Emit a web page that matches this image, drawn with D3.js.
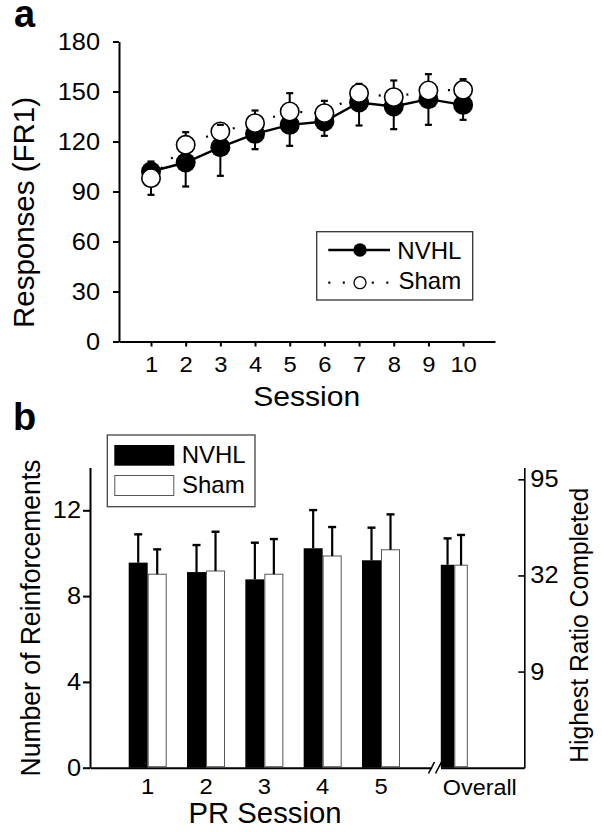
<!DOCTYPE html>
<html><head><meta charset="utf-8">
<script src="https://cdn.jsdelivr.net/npm/d3@7"></script>
<style>
body{margin:0;background:#fff}
svg{display:block}
text{font-family:"Liberation Sans",Arial,Helvetica,sans-serif;fill:#000}
</style>
</head><body>
<svg id="c" width="602" height="832"></svg>
<script>
// ---------- Panel a data ----------
const sessions = [1,2,3,4,5,6,7,8,9,10];
const nvhlFR1 = [102, 107.4, 116.6, 124.6, 130, 132, 143.4, 141, 145.4, 142];
const nvhlFR1Err = [6, 14.4, 17.2, 9.2, 12.6, 8.6, 13.8, 13.6, 15.4, 9];
const shamFR1 = [98, 118, 126, 131, 138, 137, 149, 146.6, 150.6, 151];
const shamFR1Err = [10, 7.6, 4, 7.6, 11, 7.4, 5.6, 10, 9.8, 6.4];
const fr1Ticks = [0,30,60,90,120,150,180];

// ---------- Panel b data ----------
const prCategories = ["1","2","3","4","5","Overall"];
const nvhlPR = [9.56, 9.12, 8.78, 10.23, 9.67, 9.46];
const nvhlPRErr = [1.32, 1.26, 1.71, 1.78, 1.52, 1.23];
const shamPR = [9.02, 9.17, 9.02, 9.87, 10.16, 9.44];
const shamPRErr = [1.16, 1.83, 1.64, 1.35, 1.65, 1.41];
const reinfTicks = [0,4,8,12];
const ratioTickSteps = [5,10,15];          // PR schedule step index
const ratioTickLabels = ["9","32","95"];   // ratio at that step

const svg = d3.select("#c");
const FONT = '"Liberation Sans",Arial,Helvetica,sans-serif';
const TS = 1.08; // horizontal stretch of tick labels

function styleAxis(g, fs){
  g.attr("font-family", FONT).attr("font-size", fs);
  g.selectAll(".domain").attr("stroke","#000").attr("stroke-width",2);
  g.selectAll(".tick line").attr("stroke","#000").attr("stroke-width",2);
  g.selectAll(".tick text").attr("fill","#000").attr("transform",`scale(${TS},1)`);
}

// ================= Panel a =================
const xA = d3.scaleLinear().domain([0.077, 10.92]).range([119, 495]);
const yA = d3.scaleLinear().domain([0, 180]).range([341.5, 41.5]);
const gA = svg.append("g");

const yAxA = gA.append("g").attr("transform","translate(119,0)")
  .call(d3.axisLeft(yA).tickValues(fr1Ticks).tickSize(6).tickPadding(11.6).tickSizeOuter(0));
styleAxis(yAxA, 23.5);

const xAxA = gA.append("g").attr("transform","translate(0,341.5)")
  .call(d3.axisBottom(xA).tickValues(sessions).tickSize(5).tickSizeOuter(0));
styleAxis(xAxA, 22);
xAxA.selectAll(".tick text").attr("y", 31).attr("dy", null);

gA.append("text").attr("x",14).attr("y",27).attr("font-size",38).attr("font-weight","bold").text("a");
gA.append("text").attr("transform","translate(33.5,212.5) rotate(-90)")
  .attr("text-anchor","middle").attr("font-size",29.5)
  .attr("textLength",231).attr("lengthAdjust","spacingAndGlyphs").text("Responses (FR1)");
gA.append("text").attr("x",306.7).attr("y",405.5).attr("text-anchor","middle")
  .attr("font-size",28).attr("textLength",107).attr("lengthAdjust","spacingAndGlyphs").text("Session");

const ptsN = sessions.map((s,i)=>({s, v:nvhlFR1[i], e:nvhlFR1Err[i], up: nvhlFR1[i] >= shamFR1[i]}));
const ptsS = sessions.map((s,i)=>({s, v:shamFR1[i], e:shamFR1Err[i], up: shamFR1[i] > nvhlFR1[i]}));
const line = d3.line().x(d=>xA(d.s)).y(d=>yA(d.v));

gA.append("path").datum(ptsS).attr("d", line).attr("fill","none")
  .attr("stroke","#000").attr("stroke-width",2.2).attr("stroke-dasharray","2,12");
gA.append("path").datum(ptsN).attr("d", line).attr("fill","none")
  .attr("stroke","#000").attr("stroke-width",2.4);

const R = 10, CAP = 3.5;
function stems(pts){
  gA.append("g").selectAll("line").data(pts).join("line")
    .attr("x1",d=>xA(d.s)).attr("x2",d=>xA(d.s))
    .attr("y1",d=>yA(d.v)).attr("y2",d=>yA(d.up ? d.v+d.e : d.v-d.e))
    .attr("stroke","#000").attr("stroke-width",2);
}
function caps(pts){
  gA.append("g").selectAll("line").data(pts).join("line")
    .attr("x1",d=>xA(d.s)-CAP).attr("x2",d=>xA(d.s)+CAP)
    .attr("y1",d=>yA(d.up ? d.v+d.e : d.v-d.e)).attr("y2",d=>yA(d.up ? d.v+d.e : d.v-d.e))
    .attr("stroke","#000").attr("stroke-width",2.2);
}
stems(ptsN); stems(ptsS);
gA.append("g").selectAll("circle").data(ptsN).join("circle")
  .attr("cx",d=>xA(d.s)).attr("cy",d=>yA(d.v)).attr("r",R).attr("fill","#000");
gA.append("g").selectAll("circle").data(ptsS).join("circle")
  .attr("cx",d=>xA(d.s)).attr("cy",d=>yA(d.v)).attr("r",R-0.8)
  .attr("fill","#fff").attr("stroke","#000").attr("stroke-width",1.6);
caps(ptsN); caps(ptsS);

// legend a
const legA = gA.append("g");
legA.append("rect").attr("x",316.7).attr("y",231.7).attr("width",156).attr("height",68.3)
  .attr("fill","#fff").attr("stroke","#333").attr("stroke-width",1.3);
legA.append("line").attr("x1",328.3).attr("x2",390).attr("y1",250).attr("y2",250)
  .attr("stroke","#000").attr("stroke-width",2.4);
legA.append("circle").attr("cx",360).attr("cy",250).attr("r",6.7).attr("fill","#000");
legA.append("line").attr("x1",328.3).attr("x2",390).attr("y1",282.7).attr("y2",282.7)
  .attr("stroke","#000").attr("stroke-width",2.2).attr("stroke-dasharray","2,12.5");
legA.append("circle").attr("cx",360).attr("cy",282.7).attr("r",6).attr("fill","#fff")
  .attr("stroke","#000").attr("stroke-width",1.3);
legA.append("text").attr("x",397.3).attr("y",259.3).attr("font-size",24).text("NVHL");
legA.append("text").attr("x",398.5).attr("y",288.7).attr("font-size",24).text("Sham");

// ================= Panel b =================
const gB = svg.append("g");
const yB = d3.scaleLinear().domain([0,14]).range([767.7, 467.4]);
const yR = d3.scaleLinear().domain([0,15.62]).range([767.7, 467.4]);
const xB = d3.scaleLinear().domain([1,5]).range([147.7, 381]);
const BREAK_GAP = 73.3;
const cx = (i)=> i < 5 ? xB(i+1) : xB(5) + BREAK_GAP;
const bw = (i)=> i < 5 ? 19 : 13.5;

const yAxB = gB.append("g").attr("transform","translate(90,0)")
  .call(d3.axisLeft(yB).tickValues(reinfTicks).tickSize(7).tickPadding(1.3).tickSizeOuter(0));
styleAxis(yAxB, 23.5);

const rAxB = gB.append("g").attr("transform","translate(524.3,0)")
  .call(d3.axisRight(yR).tickValues(ratioTickSteps).tickFormat((d,i)=>ratioTickLabels[i])
    .tickSize(-6).tickPadding(5.6).tickSizeOuter(0));
styleAxis(rAxB, 23.5);
rAxB.selectAll(".domain").attr("stroke-width",1.6);
rAxB.selectAll(".tick line").attr("stroke-width",1.6);

// x axis with break
const xSegL = d3.scaleLinear().range([90, 431.7]);
const xSegR = d3.scaleLinear().range([440.5, 524.3]);
[xSegL, xSegR].forEach(sc=>{
  const g = gB.append("g").attr("transform","translate(0,767.7)")
    .call(d3.axisBottom(sc).tickValues([]).tickSizeOuter(0));
  styleAxis(g, 21);
});
gB.append("path").attr("d","M428.5,773.5L434.5,762M435.5,773.5L441.5,762")
  .attr("stroke","#000").attr("stroke-width",1.6).attr("fill","none");

// category labels
const catG = gB.append("g");
prCategories.forEach((d,i)=>{
  const t = catG.append("text").attr("font-size",22).text(d);
  if (i < 5) {
    t.attr("transform",`translate(${cx(i)},794) scale(${TS},1)`).attr("text-anchor","middle");
  } else {
    t.attr("x", cx(i) - bw(i) + 2).attr("y", 794.5)
     .attr("textLength",74).attr("lengthAdjust","spacingAndGlyphs");
  }
});

// bars
const barsN = prCategories.map((c,i)=>({i, v:nvhlPR[i], e:nvhlPRErr[i]}));
const barsS = prCategories.map((c,i)=>({i, v:shamPR[i], e:shamPRErr[i]}));
gB.append("g").selectAll("rect").data(barsN).join("rect")
  .attr("x",d=>cx(d.i)-bw(d.i)).attr("width",d=>bw(d.i))
  .attr("y",d=>yB(d.v)).attr("height",d=>yB(0)-yB(d.v)).attr("fill","#000");
gB.append("g").selectAll("rect").data(barsS).join("rect")
  .attr("x",d=>cx(d.i)+0.5).attr("width",d=>bw(d.i)-1)
  .attr("y",d=>yB(d.v)).attr("height",d=>yB(0)-yB(d.v)-1)
  .attr("fill","#fff").attr("stroke","#555").attr("stroke-width",1);

function errB(data, side){
  const xc = d=> cx(d.i) + side*bw(d.i)/2;
  const g = gB.append("g");
  g.selectAll("line.s").data(data).join("line").attr("class","s")
    .attr("x1",xc).attr("x2",xc).attr("y1",d=>yB(d.v)).attr("y2",d=>yB(d.v+d.e))
    .attr("stroke","#000").attr("stroke-width",2.2);
  g.selectAll("line.c").data(data).join("line").attr("class","c")
    .attr("x1",d=>xc(d)-4).attr("x2",d=>xc(d)+4).attr("y1",d=>yB(d.v+d.e)).attr("y2",d=>yB(d.v+d.e))
    .attr("stroke","#000").attr("stroke-width",2.4);
}
errB(barsN, -1); errB(barsS, 1);

// titles b
gB.append("text").attr("x",13).attr("y",430).attr("font-size",38).attr("font-weight","bold").text("b");
gB.append("text").attr("transform","translate(39.7,618) rotate(-90)")
  .attr("text-anchor","middle").attr("font-size",27)
  .attr("textLength",317).attr("lengthAdjust","spacingAndGlyphs").text("Number of Reinforcements");
gB.append("text").attr("transform","translate(588,625.3) rotate(-90)")
  .attr("text-anchor","middle").attr("font-size",25)
  .attr("textLength",275).attr("lengthAdjust","spacingAndGlyphs").text("Highest Ratio Completed");
gB.append("text").attr("x",265).attr("y",823.3).attr("text-anchor","middle")
  .attr("font-size",29).attr("textLength",153).attr("lengthAdjust","spacingAndGlyphs").text("PR Session");

// legend b
const legB = gB.append("g");
legB.append("rect").attr("x",107.3).attr("y",435).attr("width",147.7).attr("height",71.7)
  .attr("fill","#fff").attr("stroke","#444").attr("stroke-width",1.3);
legB.append("rect").attr("x",114.3).attr("y",445).attr("width",60).attr("height",20.7).attr("fill","#000");
legB.append("rect").attr("x",114.8).attr("y",475.5).attr("width",59).attr("height",20)
  .attr("fill","#fff").attr("stroke","#555").attr("stroke-width",1);
legB.append("text").attr("x",181.7).attr("y",463.3).attr("font-size",24).text("NVHL");
legB.append("text").attr("x",182).attr("y",492.7).attr("font-size",24).text("Sham");
</script>
</body></html>
